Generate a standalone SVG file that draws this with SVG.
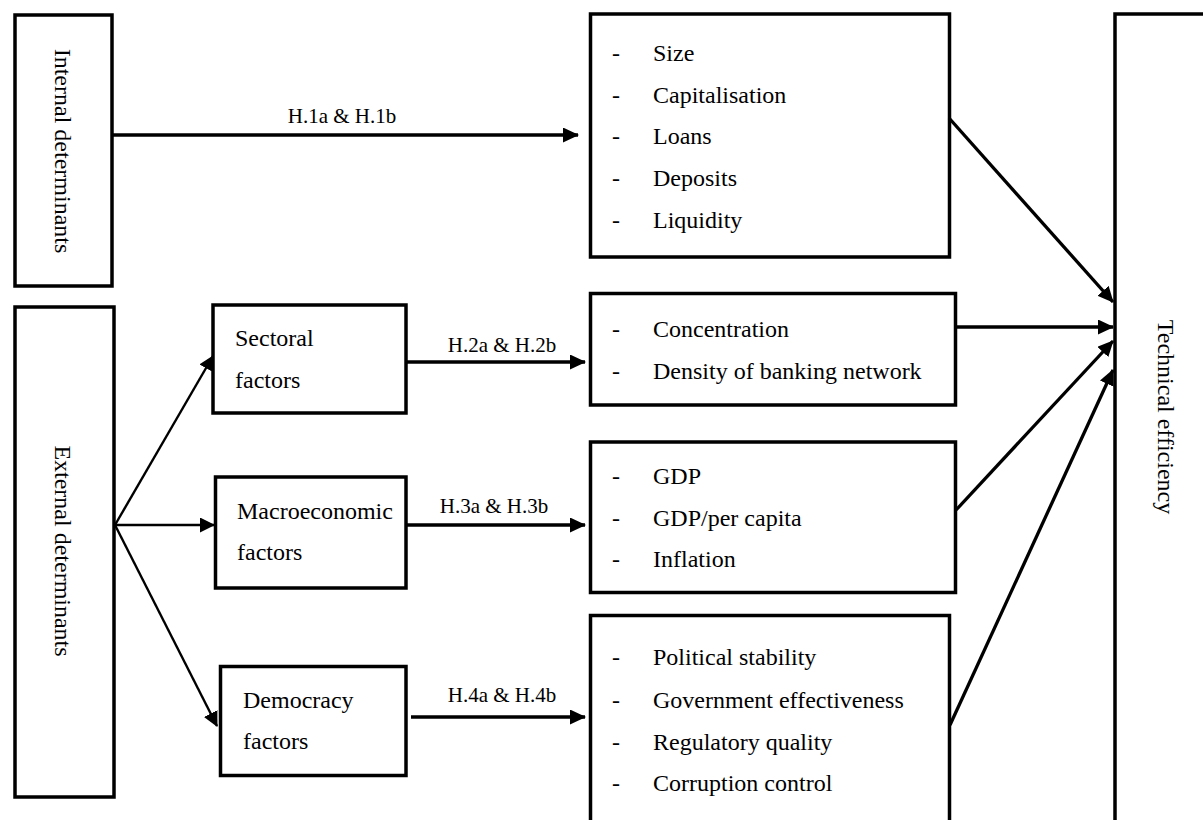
<svg xmlns="http://www.w3.org/2000/svg" width="1203" height="820" viewBox="0 0 1203 820">
<style>
  .box { fill: #fff; stroke: #000; stroke-width: 3.5; }
  .t { font-family: "Liberation Serif", "Times New Roman", serif; font-size: 24px; fill: #000; }
  .lbl { font-family: "Liberation Serif", "Times New Roman", serif; font-size: 21px; fill: #000; text-anchor: middle; }
  .vt { font-family: "Liberation Serif", "Times New Roman", serif; font-size: 24px; fill: #000; text-anchor: middle; }
  .c { stroke: #000; stroke-width: 3.3; fill: none; marker-end: url(#ah); }
  .f { stroke: #000; stroke-width: 2.4; fill: none; marker-end: url(#ah2); }
</style>
<defs>
  <marker id="ah" markerUnits="userSpaceOnUse" markerWidth="16" markerHeight="15" refX="15" refY="7.5" orient="auto">
    <path d="M0,0 L16,7.5 L0,15 z" fill="#000"/>
  </marker>
  <marker id="ah2" markerUnits="userSpaceOnUse" markerWidth="15" markerHeight="15" refX="14" refY="7.5" orient="auto">
    <path d="M0,0 L15,7.5 L0,15 z" fill="#000"/>
  </marker>
</defs>
<rect width="1203" height="820" fill="#fff"/>

<g id="internal">
  <rect class="box" x="15" y="15" width="97" height="271"/>
  <text class="vt" transform="translate(62.5,151) rotate(90)" y="8">Internal determinants</text>
</g>

<g id="external">
  <rect class="box" x="15" y="307" width="99" height="490"/>
  <text class="vt" transform="translate(63,551) rotate(90)" y="8">External determinants</text>
</g>

<g id="sectoral">
  <rect class="box" x="213" y="305" width="193" height="108"/>
  <text class="t" x="235" y="346">Sectoral</text>
  <text class="t" x="235" y="388">factors</text>
</g>

<g id="macro">
  <rect class="box" x="215.5" y="477" width="190.5" height="111"/>
  <text class="t" x="237" y="519">Macroeconomic</text>
  <text class="t" x="237" y="560">factors</text>
</g>

<g id="democracy">
  <rect class="box" x="220.5" y="666.5" width="185.5" height="109"/>
  <text class="t" x="243" y="708">Democracy</text>
  <text class="t" x="243" y="749">factors</text>
</g>

<g id="internal-vars">
  <rect class="box" x="590.5" y="14" width="359" height="243"/>
  <text class="t" x="612" y="61">-</text><text class="t" x="653" y="61">Size</text>
  <text class="t" x="612" y="103">-</text><text class="t" x="653" y="103">Capitalisation</text>
  <text class="t" x="612" y="144">-</text><text class="t" x="653" y="144">Loans</text>
  <text class="t" x="612" y="186">-</text><text class="t" x="653" y="186">Deposits</text>
  <text class="t" x="612" y="228">-</text><text class="t" x="653" y="228">Liquidity</text>
</g>

<g id="sectoral-vars">
  <rect class="box" x="590.5" y="293.5" width="365" height="111.5"/>
  <text class="t" x="612" y="337">-</text><text class="t" x="653" y="337">Concentration</text>
  <text class="t" x="612" y="379">-</text><text class="t" x="653" y="379">Density of banking network</text>
</g>

<g id="macro-vars">
  <rect class="box" x="590.5" y="442" width="365" height="150.5"/>
  <text class="t" x="612" y="484">-</text><text class="t" x="653" y="484">GDP</text>
  <text class="t" x="612" y="526">-</text><text class="t" x="653" y="526">GDP/per capita</text>
  <text class="t" x="612" y="567">-</text><text class="t" x="653" y="567">Inflation</text>
</g>

<g id="democracy-vars">
  <rect class="box" x="590.5" y="615.5" width="359" height="220"/>
  <text class="t" x="612" y="665">-</text><text class="t" x="653" y="665">Political stability</text>
  <text class="t" x="612" y="708">-</text><text class="t" x="653" y="708">Government effectiveness</text>
  <text class="t" x="612" y="750">-</text><text class="t" x="653" y="750">Regulatory quality</text>
  <text class="t" x="612" y="791">-</text><text class="t" x="653" y="791">Corruption control</text>
</g>

<g id="technical-efficiency">
  <rect class="box" x="1115" y="14" width="100" height="820"/>
  <text class="vt" transform="translate(1166,417) rotate(90)" y="8">Technical efficiency</text>
</g>

<g id="connectors">
  <line class="c" x1="112" y1="135" x2="578" y2="135"/>
  <line class="c" x1="406" y1="362" x2="585" y2="362"/>
  <line class="c" x1="406" y1="525" x2="585" y2="525"/>
  <line class="c" x1="411" y1="717" x2="585" y2="717"/>
  <line class="f" x1="115" y1="525" x2="213" y2="356"/>
  <line class="f" x1="115" y1="525" x2="214" y2="525"/>
  <line class="f" x1="115" y1="525" x2="217" y2="726"/>
  <line class="c" x1="949" y1="118" x2="1113" y2="302"/>
  <line class="c" x1="955" y1="327" x2="1113" y2="327"/>
  <line class="c" x1="956" y1="510" x2="1113" y2="341"/>
  <line class="c" x1="950" y1="725" x2="1113" y2="370"/>
  <text class="lbl" x="342" y="123">H.1a &amp; H.1b</text>
  <text class="lbl" x="502" y="352">H.2a &amp; H.2b</text>
  <text class="lbl" x="494" y="513">H.3a &amp; H.3b</text>
  <text class="lbl" x="502" y="702">H.4a &amp; H.4b</text>
</g>
</svg>
